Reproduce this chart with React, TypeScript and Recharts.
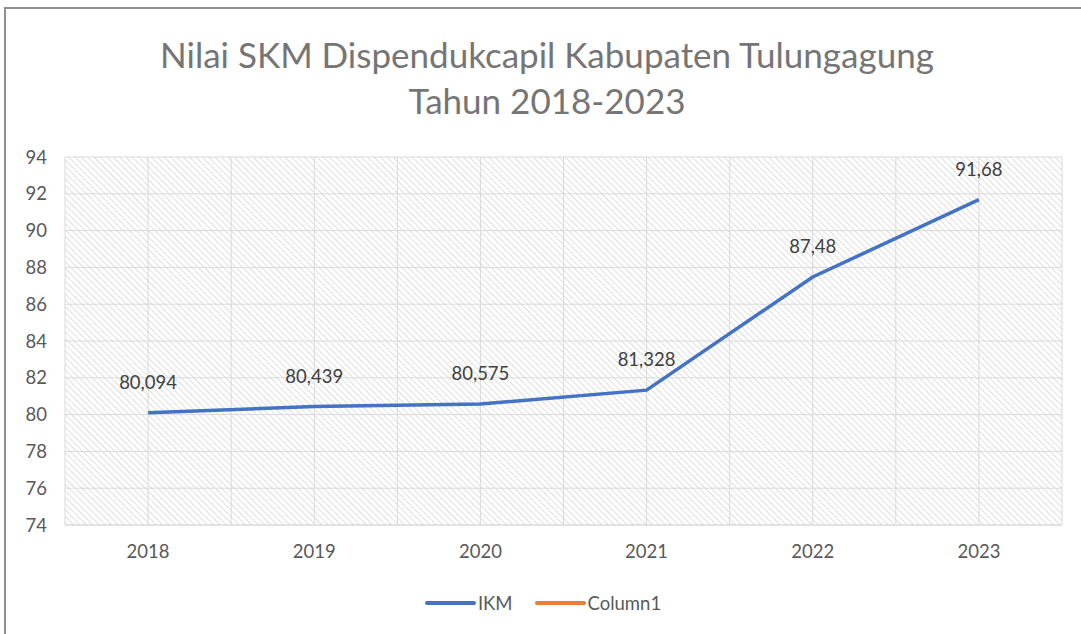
import { LineChart, Line, XAxis, YAxis, CartesianGrid, LabelList } from "recharts";

// data
const years = ["2018", "2019", "2020", "2021", "2022", "2023"];
const ikm = [80.094, 80.439, 80.575, 81.328, 87.48, 91.68];
const column1: (number | null)[] = [null, null, null, null, null, null];
const yTicks = [74, 76, 78, 80, 82, 84, 86, 88, 90, 92, 94];
const xTicks = [-0.5, 0, 0.5, 1, 1.5, 2, 2.5, 3, 3.5, 4, 4.5, 5, 5.5];

const chartData = years.map((year, i) => ({
  idx: i,
  year,
  ikm: ikm[i],
  col1: column1[i],
}));

const FONT = "Lato, 'Open Sans', sans-serif";

const fmt = (v: any) => String(v).replace(".", ",");

const legendItems = [
  { name: "IKM", color: "#4472C4" },
  { name: "Column1", color: "#ED7D31" },
];

export default function App() {
  return (
    <div style={{ position: "absolute", left: 0, top: 0, width: 1081, height: 634, background: "#fff", overflow: "hidden" }}>
      <svg width="0" height="0" style={{ position: "absolute" }}>
        <defs>
          <pattern id="hatch" width="4.5" height="4.5" patternUnits="userSpaceOnUse" patternTransform="rotate(-45)">
            <line x1="0" y1="0" x2="0" y2="4.5" stroke="#d2d2d2" strokeWidth="1.4" />
          </pattern>
        </defs>
      </svg>
      <div style={{ position: "absolute", left: 4, top: 7, width: 1100, height: 700, borderLeft: "2px solid #8f8f8f", borderTop: "2px solid #8f8f8f" }} />
      <div
        style={{
          position: "absolute",
          left: 0,
          top: 31,
          width: 1094,
          textAlign: "center",
          fontFamily: FONT,
          fontSize: 35,
          lineHeight: "46px",
          color: "#757575",
        }}
      >
        <div>Nilai SKM Dispendukcapil Kabupaten Tulungagung</div>
        <div>Tahun 2018-2023</div>
      </div>
      <div style={{ position: "absolute", left: 0, top: 0 }}>
        <LineChart width={1081} height={634} data={chartData} margin={{ top: 157, right: 19, bottom: 79, left: 0 }}>
          <CartesianGrid stroke="#d9d9d9" fill="url(#hatch)" fillOpacity={1} />
          <XAxis
            type="number"
            dataKey="idx"
            domain={[-0.5, 5.5]}
            ticks={xTicks}
            interval={0}
            height={30}
            tickFormatter={(v: number) => (Number.isInteger(v) ? years[v] : "")}
            axisLine={{ stroke: "#d9d9d9" }}
            tickLine={false}
            tickMargin={14}
            tick={{ fill: "#595959", fontSize: 18.5, fontFamily: FONT }}
          />
          <YAxis
            domain={[74, 94]}
            ticks={yTicks}
            interval={0}
            width={65}
            axisLine={false}
            tickLine={false}
            tickMargin={12}
            tick={{ fill: "#595959", fontSize: 18.5, fontFamily: FONT }}
          />
          <Line type="linear" dataKey="ikm" name="IKM" stroke="#4472C4" strokeWidth={3.5} dot={false} isAnimationActive={false}>
            <LabelList dataKey="ikm" position="top" offset={24} formatter={fmt} fill="#404040" fontSize={18.5} fontFamily={FONT} />
          </Line>
          <Line type="linear" dataKey="col1" name="Column1" stroke="#ED7D31" strokeWidth={3.5} dot={false} isAnimationActive={false} />
        </LineChart>
      </div>
      <div
        style={{
          position: "absolute",
          left: 0,
          top: 590,
          width: 1086,
          display: "flex",
          justifyContent: "center",
          gap: 22,
          fontFamily: FONT,
          fontSize: 18.5,
          lineHeight: "26px",
          color: "#595959",
        }}
      >
        {legendItems.map((it) => (
          <div key={it.name} style={{ display: "flex", alignItems: "center" }}>
            <span style={{ display: "inline-block", width: 51, height: 4, borderRadius: 2, background: it.color, marginRight: 2 }} />
            <span>{it.name}</span>
          </div>
        ))}
      </div>
    </div>
  );
}
